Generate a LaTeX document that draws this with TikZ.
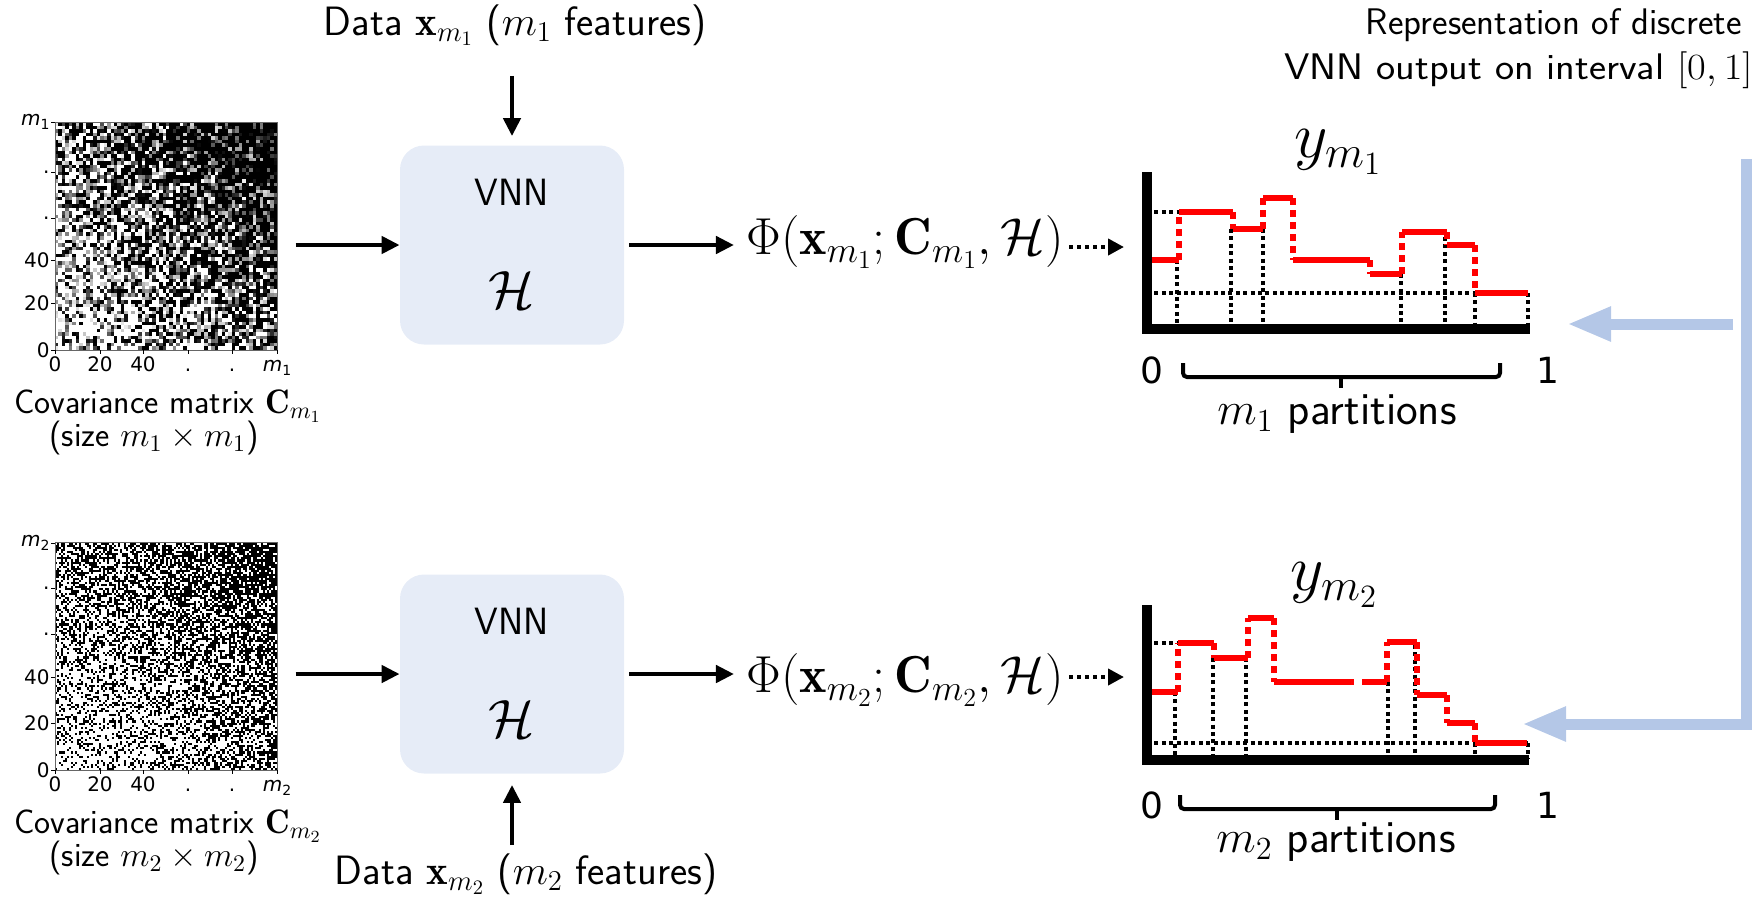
\documentclass[tikz,border=0pt]{standalone}
\usepackage{fix-cm}
\usepackage{amsmath}
\usepackage{amsfonts}
\usepackage{fontspec}
\usepackage{tikz}
\usepackage{xcolor}
\usetikzlibrary{positioning,arrows.meta}
\renewcommand{\familydefault}{\sfdefault}
\newfontfamily\tickfont{DejaVu Sans}
\definecolor{vnnfill}{RGB}{230,236,247}
\definecolor{feedblue}{RGB}{180,199,231}
\newcommand{\tm}[1]{\textit{m}\raisebox{-0.4ex}{\fontsize{7}{7}\selectfont #1}}

\begin{document}
\begin{tikzpicture}[x=0.5pt,y=-0.5pt,
  every node/.style={inner sep=0pt},
  hmap/.style={draw=black!60,line width=0.5pt,minimum width=111pt,minimum height=114pt},
  vnn/.style={fill=vnnfill,rounded corners=12pt,minimum width=112pt,minimum height=99.5pt},
  tick/.style={font=\tickfont\fontsize{10}{12}\selectfont},
  num/.style={font=\tickfont\fontsize{18}{20}\selectfont},
  capt/.style={font=\fontsize{17}{19}\selectfont},
  datalab/.style={font=\fontsize{20.5}{24}\selectfont},
  boxtxt/.style={font=\fontsize{19}{22}\selectfont},
  calh/.style={font=\fontsize{27}{30}\selectfont},
  phi/.style={font=\fontsize{26}{30}\selectfont},
  ylab/.style={font=\fontsize{32.5}{36}\selectfont},
  part/.style={font=\fontsize{23}{26}\selectfont},
  titl/.style={font=\fontsize{18.5}{22.5}\selectfont},
  arr/.style={line width=2.2pt,-{Triangle[length=9pt,width=8.5pt]}},
  dotarr/.style={line width=2.2pt,dash pattern=on 2.2pt off 1.8pt,-{Triangle[length=8pt,width=8pt]}},
  feed/.style={feedblue,line width=5.5pt,-{Triangle[length=22pt,width=16pt]}},
  axisline/.style={line width=5pt},
  guide/.style={line width=2pt,dash pattern=on 2pt off 1.7pt},
  redlevel/.style={red,line width=3pt},
  redlong/.style={red,line width=3pt,dash pattern=on 40pt off 4pt},
  redjump/.style={red,line width=3pt,dash pattern=on 3.5pt off 2.5pt},
  bracket/.style={line width=2pt,rounded corners=2pt}]
\useasboundingbox (0,0) rectangle (1759,901);

\pgfmathsetseed{11}
\foreach \i in {0,...,63}{
  \foreach \j in {0,...,63}{
    \pgfmathparse{100*min(1,max(0,(rnd+0.4*((\i+\j)/63-1)-0.22)/0.4))}
    \let\g\pgfmathresult
    \ifdim\g pt>6pt \fill[black!\g] (55+\i*3.469,350-\j*3.5625) rectangle ++(3.469,-3.5625);\fi
  }
}
\foreach \i in {0,...,109}{
  \foreach \j in {0,...,109}{
    \pgfmathparse{rnd<0.47+0.3*((\i+\j)/109-1)}
    \ifnum\pgfmathresult=1 \fill (55+\i*2.018,770-\j*2.064) rectangle ++(2.018,-2.064);\fi
  }
}
\node[hmap] (hm1) at (166,236) {};
\node[hmap] (hm2) at (166,656.5) {};

\foreach \yy/\lab in {122/\tm{1},172/.,218/.,260/40,303/20,350/0}{
  \draw (55,\yy) -- ++(-4,0);
  \node[tick,anchor=east] at (50,\yy) {\lab};
}
\foreach \xx/\lab in {55/0,100/20,143/40,188/.,232/.,277/\tm{1}}{
  \draw (\xx,350) -- ++(0,4);
  \node[tick,anchor=base] at (\xx,371) {\lab};
}
\foreach \yy/\lab in {543/\tm{2},588/.,634/.,677/40,723/20,770/0}{
  \draw (55,\yy) -- ++(-4,0);
  \node[tick,anchor=east] at (50,\yy) {\lab};
}
\foreach \xx/\lab in {55/0,100/20,143/40,188/.,232/.,277/\tm{2}}{
  \draw (\xx,770) -- ++(0,4);
  \node[tick,anchor=base] at (\xx,791) {\lab};
}
\node[capt] (cap1) at (168,406) {Covariance matrix $\mathbf{C}_{m_1}$};
\node[capt] (size1) at (154,438) {(size $m_1\times m_1$)};
\node[capt] (cap2) at (168,826) {Covariance matrix $\mathbf{C}_{m_2}$};
\node[capt] (size2) at (154,858) {(size $m_2\times m_2$)};

\node[vnn] (vnn1) at (512,245) {};
\node[boxtxt] (vnnt1) at (512,192) {VNN};
\node[calh] (vnnh1) at (512,290) {$\mathcal{H}$};
\node[vnn] (vnn2) at (512,674) {};
\node[boxtxt] (vnnt2) at (512,621) {VNN};
\node[calh] (vnnh2) at (512,719) {$\mathcal{H}$};

\node[datalab] (data1) at (515,25) {Data $\mathbf{x}_{m_1}$ ($m_1$ features)};
\node[datalab] (data2) at (526,874) {Data $\mathbf{x}_{m_2}$ ($m_2$ features)};
\draw[arr,shorten <=15pt,shorten >=4.5pt] (data1.south -| vnn1) -- (vnn1);
\draw[arr,shorten <=4pt,shorten >=5.5pt] (data2.north -| vnn2) -- (vnn2);

\draw[arr,shorten <=9pt] (hm1.east |- vnn1.west) -- (vnn1.west);
\draw[arr,shorten <=9pt] (hm2.east |- vnn2.west) -- (vnn2.west);

\node[phi] (phi1) at (905,242) {$\Phi(\mathbf{x}_{m_1};\mathbf{C}_{m_1},\mathcal{H})$};
\node[phi] (phi2) at (905,680) {$\Phi(\mathbf{x}_{m_2};\mathbf{C}_{m_2},\mathcal{H})$};
\draw[arr,shorten <=2.5pt,shorten >=6pt] (vnn1.east) -- (vnn1.east -| phi1.west);
\draw[arr,shorten <=2.5pt,shorten >=6pt] (vnn2.east) -- (vnn2.east -| phi2.west);

\coordinate (ax1) at (1124,247);
\coordinate (ax2) at (1124,677);
\draw[dotarr,shorten <=2.5pt] (phi1.east |- ax1) -- (ax1);
\draw[dotarr,shorten <=2.5pt] (phi2.east |- ax2) -- (ax2);

\node[titl,anchor=east] (title1) at (1742,25) {Representation of discrete};
\node[titl,anchor=east] (title2) at (1753,70) {\scalebox{1.1}[1]{VNN output on interval $[0,1]$}};

\node[ylab] (y1) at (1338,152) {$y_{m_1}$};
\draw[guide] (1147,212) -- (1179,212);
\draw[guide] (1147,293) -- (1528,293);
\foreach \xx/\yy in {1177/260,1231/229,1263/229,1401/274,1445/237,1475/293,1528/293}
  \draw[guide] (\xx,\yy) -- (\xx,327);
\foreach \xa/\xb/\ya/\yb/\hs in {1147/1179/260/212/redlevel,1179/1233/212/229/redlevel,
    1233/1263/229/198/redlevel,1263/1293/198/260/redlevel,1293/1370/260/274/redlong,
    1370/1402/274/232/redlevel,1402/1447/232/245/redlevel,1447/1475/245/293/redlevel,
    1475/1528/293/293/redlevel}{
  \draw[\hs] (\xa,\ya) -- (\xb,\ya);
  \draw[redjump] (\xb,\ya) -- (\xb,\yb);
}
\draw[axisline] (1147,172) -- (1147,329) -- (1530,329);
\node[num] (zero1) at (1152,370) {0};
\node[num] (one1) at (1548,370) {1};
\draw[bracket] (1183,363) -- (1183,377) -- (1500,377) -- (1500,363);
\draw[bracket] (1341,377) -- (1341,388);
\node[part] (p1) at (1337,414) {$m_1$ partitions};

\node[ylab] (y2) at (1334,585) {$y_{m_2}$};
\draw[guide] (1147,643) -- (1178,643);
\draw[guide] (1147,743) -- (1528,743);
\foreach \xx/\yy in {1175/692,1213/658,1246/658,1388/682,1415/645,1475/743,1528/743}
  \draw[guide] (\xx,\yy) -- (\xx,758);
\foreach \xa/\xb/\ya/\yb/\hs in {1147/1178/692/643/redlevel,1178/1214/643/658/redlevel,
    1214/1248/658/618/redlevel,1248/1274/618/682/redlevel,1274/1387/682/642/redlong,
    1387/1417/642/695/redlevel,1417/1447/695/723/redlevel,1447/1475/723/743/redlevel,
    1475/1527/743/743/redlevel}{
  \draw[\hs] (\xa,\ya) -- (\xb,\ya);
  \draw[redjump] (\xb,\ya) -- (\xb,\yb);
}
\draw[axisline] (1147,605) -- (1147,760) -- (1529,760);
\node[num] (zero2) at (1152,805) {0};
\node[num] (one2) at (1548,805) {1};
\draw[bracket] (1180,795) -- (1180,809) -- (1495,809) -- (1495,795);
\draw[bracket] (1337,809) -- (1337,820);
\node[part] (p2) at (1336,842) {$m_2$ partitions};

\coordinate (ch1) at (1567,324);
\coordinate (ch2) at (1522,724);
\draw[feed] (1733,324) -- (ch1);
\draw[feed] (1746,159) -- (1746,724) -- (ch2);
\end{tikzpicture}
\end{document}
